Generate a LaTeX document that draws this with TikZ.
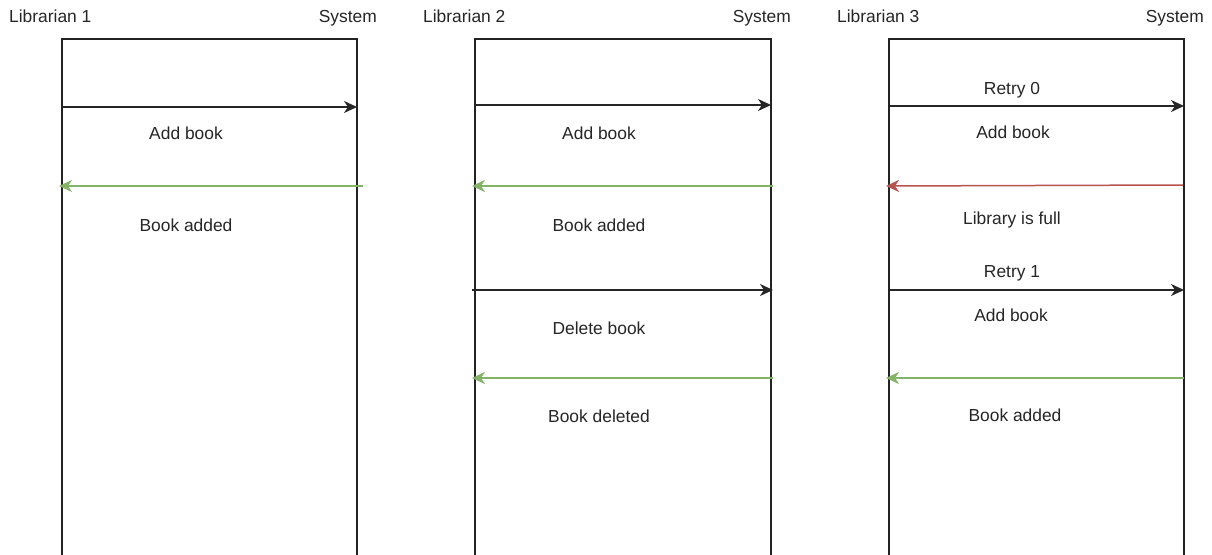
\documentclass[tikz,border=0pt]{standalone}
\usepackage{fontspec}
\setmainfont{Liberation Sans}
\usetikzlibrary{arrows.meta}
\definecolor{okgreen}{HTML}{82B366}
\definecolor{errred}{HTML}{B85450}
\definecolor{linegray}{HTML}{222222}
\begin{document}
\begin{tikzpicture}[x=1pt,y=-1pt,
  lbl/.style={anchor=base,inner sep=0pt,font=\fontsize{17.4}{20}\selectfont,text=black!85},
  lifebox/.style={draw=linegray,line width=1.5pt},
  tip/.style={-{Stealth[length=13pt,width=12pt,inset=4pt]}},
  req/.style={draw=black!85,line width=1.5pt,tip},
  okreply/.style={draw=okgreen,line width=1.5pt,tip},
  errreply/.style={draw=errred,line width=1.5pt,tip}]
\useasboundingbox (0,0) rectangle (1212,554);
\fill[white] (0,0) rectangle (1212,554);

% ---------- Panel 1 ----------
\node[lbl,anchor=base west] (h1l) at (9,23) {Librarian 1};
\node[lbl,anchor=base east] (h1s) at (377,23) {System};
\draw[lifebox] (62,556) -- (62,39) -- (357,39) -- (357,556);
\coordinate (p1a1) at (62,107);  \coordinate (p1b1) at (357,107);
\coordinate (p1a2) at (59,186);  \coordinate (p1b2) at (363,186);
\draw[req] (p1a1) -- (p1b1);
\draw[okreply] (p1b2) -- (p1a2);
\node[lbl] (t11) at (186,139) {Add book};
\node[lbl] (t12) at (186,231) {Book added};

% ---------- Panel 2 ----------
\node[lbl,anchor=base west] (h2l) at (423,23) {Librarian 2};
\node[lbl,anchor=base east] (h2s) at (791,23) {System};
\draw[lifebox] (475,556) -- (475,39) -- (771,39) -- (771,556);
\coordinate (p2a1) at (475,105);  \coordinate (p2b1) at (771,105);
\coordinate (p2a2) at (472,186);  \coordinate (p2b2) at (773,186);
\coordinate (p2a3) at (472,290);  \coordinate (p2b3) at (773,290);
\coordinate (p2a4) at (472,378);  \coordinate (p2b4) at (773,378);
\draw[req] (p2a1) -- (p2b1);
\draw[okreply] (p2b2) -- (p2a2);
\draw[req] (p2a3) -- (p2b3);
\draw[okreply] (p2b4) -- (p2a4);
\node[lbl] (t21) at (599,139) {Add book};
\node[lbl] (t22) at (599,231) {Book added};
\node[lbl] (t23) at (599,334) {Delete book};
\node[lbl] (t24) at (599,422) {Book deleted};

% ---------- Panel 3 ----------
\node[lbl,anchor=base west] (h3l) at (837,23) {Librarian 3};
\node[lbl,anchor=base east] (h3s) at (1204,23) {System};
\draw[lifebox] (889,556) -- (889,39) -- (1184,39) -- (1184,556);
\coordinate (p3a1) at (889,106);  \coordinate (p3b1) at (1184,106);
\coordinate (p3a2) at (886,186);  \coordinate (p3b2) at (1183,185);
\coordinate (p3a3) at (889,290);  \coordinate (p3b3) at (1184,290);
\coordinate (p3a4) at (886,378);  \coordinate (p3b4) at (1184,378);
\draw[req] (p3a1) -- (p3b1);
\draw[errreply] (p3b2) -- (p3a2);
\draw[req] (p3a3) -- (p3b3);
\draw[okreply] (p3b4) -- (p3a4);
\node[lbl] (t31) at (1012,94.5) {Retry 0};
\node[lbl] (t32) at (1013,138.5) {Add book};
\node[lbl] (t33) at (1012,224.5) {Library is full};
\node[lbl] (t34) at (1012,277.5) {Retry 1};
\node[lbl] (t35) at (1011,321.5) {Add book};
\node[lbl] (t36) at (1015,421.5) {Book added};
\end{tikzpicture}
\end{document}
